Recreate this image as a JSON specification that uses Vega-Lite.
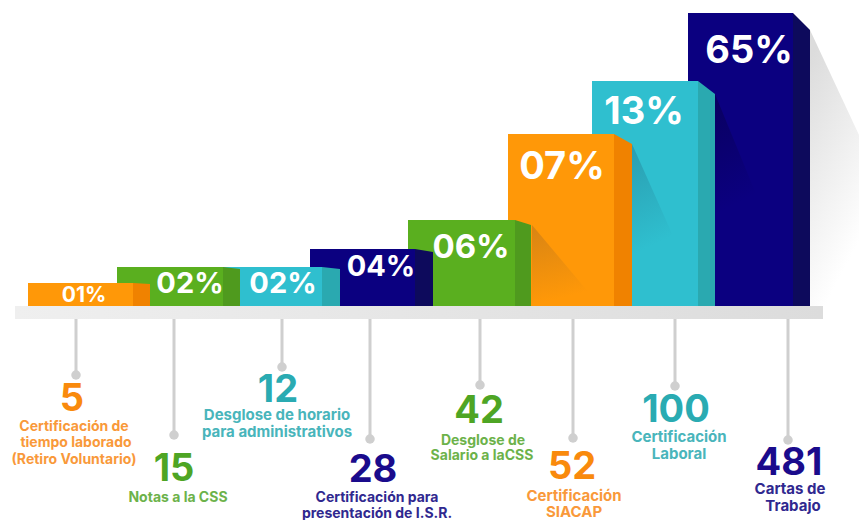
{"$schema":"https://vega.github.io/schema/vega-lite/v6.json","width":859,"height":520,"autosize":{"type":"fit","contains":"padding"},"padding":0,"background":"white","view":{"stroke":null},
"datasets":{
"barras":[
{"x":688,"x2":793,"y":293,"y2":0,"tono":"azul"},
{"x":592,"x2":698,"y":225,"y2":0,"tono":"turquesa"},
{"x":508,"x2":614,"y":172,"y2":0,"tono":"naranja"},
{"x":408,"x2":515,"y":86,"y2":0,"tono":"verde"},
{"x":310,"x2":415,"y":57,"y2":0,"tono":"azul"},
{"x":220,"x2":322,"y":39,"y2":0,"tono":"turquesa"},
{"x":117,"x2":223,"y":39,"y2":0,"tono":"verde"},
{"x":28,"x2":133,"y":23,"y2":0,"tono":"naranja"}],
"lados":[
{"barra":"a","x":793,"y":293,"y2":0,"tono":"lado azul"},{"barra":"a","x":810,"y":276,"y2":0,"tono":"lado azul"},
{"barra":"b","x":698,"y":225,"y2":0,"tono":"lado turquesa"},{"barra":"b","x":715,"y":212,"y2":0,"tono":"lado turquesa"},
{"barra":"c","x":614,"y":172,"y2":0,"tono":"lado naranja"},{"barra":"c","x":632,"y":162,"y2":0,"tono":"lado naranja"},
{"barra":"d","x":515,"y":86,"y2":0,"tono":"lado verde"},{"barra":"d","x":531,"y":81,"y2":0,"tono":"lado verde"},
{"barra":"e","x":415,"y":57,"y2":0,"tono":"lado azul"},{"barra":"e","x":433,"y":54,"y2":0,"tono":"lado azul"},
{"barra":"f","x":322,"y":39,"y2":0,"tono":"lado turquesa"},{"barra":"f","x":340,"y":37,"y2":0,"tono":"lado turquesa"},
{"barra":"g","x":223,"y":39,"y2":0,"tono":"lado verde"},{"barra":"g","x":240,"y":37,"y2":0,"tono":"lado verde"},
{"barra":"h","x":133,"y":23,"y2":0,"tono":"lado naranja"},{"barra":"h","x":150,"y":22,"y2":0,"tono":"lado naranja"}],
"sombras":[
{"s":"fondo","x":810,"y":276,"y2":0},{"s":"fondo","x":859,"y":171,"y2":0},
{"s":"verde","x":532,"y":81,"y2":0},{"s":"verde","x":600,"y":0,"y2":0},
{"s":"naranja","x":632,"y":162,"y2":50},{"s":"naranja","x":682,"y":50,"y2":50},
{"s":"turquesa","x":715,"y":212,"y2":90},{"s":"turquesa","x":765,"y":90,"y2":90}],
"repisa":[{"x":15,"x2":823,"y":0,"y2":-13}],
"conectores":[
{"x":76,"y":-13,"y2":-69},{"x":174,"y":-13,"y2":-129},{"x":282,"y":-13,"y2":-61},{"x":370,"y":-13,"y2":-133},
{"x":480,"y":-13,"y2":-79},{"x":573,"y":-13,"y2":-132},{"x":675,"y":-13,"y2":-80},{"x":788,"y":-13,"y2":-134}],
"textos":[
{"x":84,"y":10,"texto":"01%","tono":"blanco","clase":"p1"},
{"x":190,"y":22,"texto":"02%","tono":"blanco","clase":"p2"},
{"x":283,"y":22,"texto":"02%","tono":"blanco","clase":"p2"},
{"x":381,"y":39,"texto":"04%","tono":"blanco","clase":"p2"},
{"x":471,"y":58,"texto":"06%","tono":"blanco","clase":"p3"},
{"x":562,"y":138,"texto":"07%","tono":"blanco","clase":"p4"},
{"x":644,"y":193,"texto":"13%","tono":"blanco","clase":"p4"},
{"x":749,"y":254,"texto":"65%","tono":"blanco","clase":"p4"},
{"x":72,"y":-94,"texto":"5","tono":"texto naranja","clase":"n"},
{"x":278,"y":-85,"texto":"12","tono":"texto turquesa","clase":"n"},
{"x":174,"y":-164,"texto":"15","tono":"texto verde","clase":"n"},
{"x":373,"y":-165,"texto":"28","tono":"texto azul","clase":"n"},
{"x":479,"y":-106,"texto":"42","tono":"texto verde","clase":"n"},
{"x":572,"y":-162,"texto":"52","tono":"texto naranja","clase":"n"},
{"x":676,"y":-105,"texto":"100","tono":"texto turquesa","clase":"n"},
{"x":789,"y":-158,"texto":"481","tono":"texto azul","clase":"n"},
{"x":74,"y":-121,"texto":"Certificación de","tono":"leyenda naranja","clase":"c"},
{"x":76,"y":-137,"texto":"tiempo laborado","tono":"leyenda naranja","clase":"c"},
{"x":74,"y":-154,"texto":"(Retiro Voluntario)","tono":"leyenda naranja","clase":"c"},
{"x":178,"y":-192,"texto":"Notas a la CSS","tono":"leyenda verde","clase":"c"},
{"x":277,"y":-109,"texto":"Desglose de horario","tono":"leyenda turquesa","clase":"d"},
{"x":277,"y":-126,"texto":"para administrativos","tono":"leyenda turquesa","clase":"d"},
{"x":377,"y":-192,"texto":"Certificación para","tono":"leyenda azul","clase":"c"},
{"x":377,"y":-208,"texto":"presentación de I.S.R.","tono":"leyenda azul","clase":"c"},
{"x":483,"y":-135,"texto":"Desglose de","tono":"leyenda verde","clase":"c"},
{"x":482,"y":-150,"texto":"Salario a laCSS","tono":"leyenda verde","clase":"c"},
{"x":574,"y":-190,"texto":"Certificación","tono":"leyenda naranja","clase":"d"},
{"x":574,"y":-206,"texto":"SIACAP","tono":"leyenda naranja","clase":"d"},
{"x":679,"y":-131,"texto":"Certificación","tono":"leyenda turquesa","clase":"d"},
{"x":679,"y":-148,"texto":"Laboral","tono":"leyenda turquesa","clase":"d"},
{"x":790,"y":-183,"texto":"Cartas de","tono":"leyenda azul","clase":"d"},
{"x":793,"y":-200,"texto":"Trabajo","tono":"leyenda azul","clase":"d"}]
},
"encoding":{
"x":{"field":"x","type":"quantitative","axis":null,"scale":{"domain":[0,859],"range":[0,859],"nice":false,"zero":false}},
"y":{"field":"y","type":"quantitative","axis":null,"stack":null,"scale":{"domain":[-214,306],"range":[520,0],"nice":false,"zero":false}}
},
"layer":[
{"data":{"name":"sombras"},"transform":[{"filter":"datum.s==='fondo'"}],
"mark":{"type":"area","color":{"gradient":"linear","x1":0,"y1":0.1,"x2":0.3,"y2":1,"stops":[{"offset":0,"color":"#dcdcdc"},{"offset":1,"color":"#ffffff"}]}},
"encoding":{"y2":{"field":"y2"}}},
{"data":{"name":"repisa"},
"mark":{"type":"rect","color":{"gradient":"linear","x1":0,"y1":0,"x2":1,"y2":0,"stops":[{"offset":0,"color":"#efefef"},{"offset":1,"color":"#dcdcdc"}]}},
"encoding":{"x2":{"field":"x2"},"y2":{"field":"y2"}}},
{"data":{"name":"conectores"},"mark":{"type":"rule","color":"#cfcfcf","strokeWidth":3},
"encoding":{"y2":{"field":"y2"}}},
{"data":{"name":"conectores"},"mark":{"type":"point","filled":true,"color":"#cfcfcf","size":90,"opacity":1},
"encoding":{"y":{"field":"y2","type":"quantitative","axis":null,"scale":{"domain":[-214,306],"range":[520,0],"nice":false,"zero":false}}}},
{"data":{"name":"barras"},"mark":{"type":"rect"},
"encoding":{"x2":{"field":"x2"},"y2":{"field":"y2"},"color":{"field":"tono","type":"nominal","legend":null,"scale":{"domain":["azul","turquesa","naranja","verde","lado azul","lado turquesa","lado naranja","lado verde","blanco","texto naranja","texto turquesa","texto verde","texto azul","leyenda naranja","leyenda turquesa","leyenda verde","leyenda azul"],"range":["#0b0080","#2fbfcf","#ff9808","#5aaf1f","#0d0a5c","#2aa9b0","#f08200","#4f9a1e","#ffffff","#f98a0c","#2aabb2","#4ea524","#1a0b8c","#f9993a","#49b5bb","#6cb24a","#30288f"]}}}},
{"data":{"name":"sombras"},"transform":[{"filter":"datum.s==='verde'"}],
"mark":{"type":"area","color":{"gradient":"linear","x1":0,"y1":0,"x2":0.2,"y2":0.95,"stops":[{"offset":0,"color":"#d88414"},{"offset":1,"color":"#ff9808"}]}},
"encoding":{"y2":{"field":"y2"}}},
{"data":{"name":"sombras"},"transform":[{"filter":"datum.s==='naranja'"}],
"mark":{"type":"area","color":{"gradient":"linear","x1":0,"y1":0,"x2":0.2,"y2":0.95,"stops":[{"offset":0,"color":"#2a9db0"},{"offset":1,"color":"#2fbfcf"}]}},
"encoding":{"y2":{"field":"y2"}}},
{"data":{"name":"sombras"},"transform":[{"filter":"datum.s==='turquesa'"}],
"mark":{"type":"area","color":{"gradient":"linear","x1":0,"y1":0,"x2":0.2,"y2":0.95,"stops":[{"offset":0,"color":"#090060"},{"offset":1,"color":"#0b0080"}]}},
"encoding":{"y2":{"field":"y2"}}},
{"data":{"name":"lados"},"mark":{"type":"area"},
"encoding":{"y2":{"field":"y2"},"detail":{"field":"barra"},"color":{"field":"tono","type":"nominal","legend":null}}},
{"data":{"name":"textos"},"mark":{"type":"text","font":"Inter","fontWeight":700,"align":"center","baseline":"middle"},
"encoding":{"text":{"field":"texto"},
"color":{"field":"tono","type":"nominal","legend":null},
"size":{"field":"clase","type":"nominal","legend":null,"scale":{"type":"ordinal","domain":["p1","p2","p3","p4","n","c","d"],"range":[21,29,33,38,38,14,15]}}}}
]
}
